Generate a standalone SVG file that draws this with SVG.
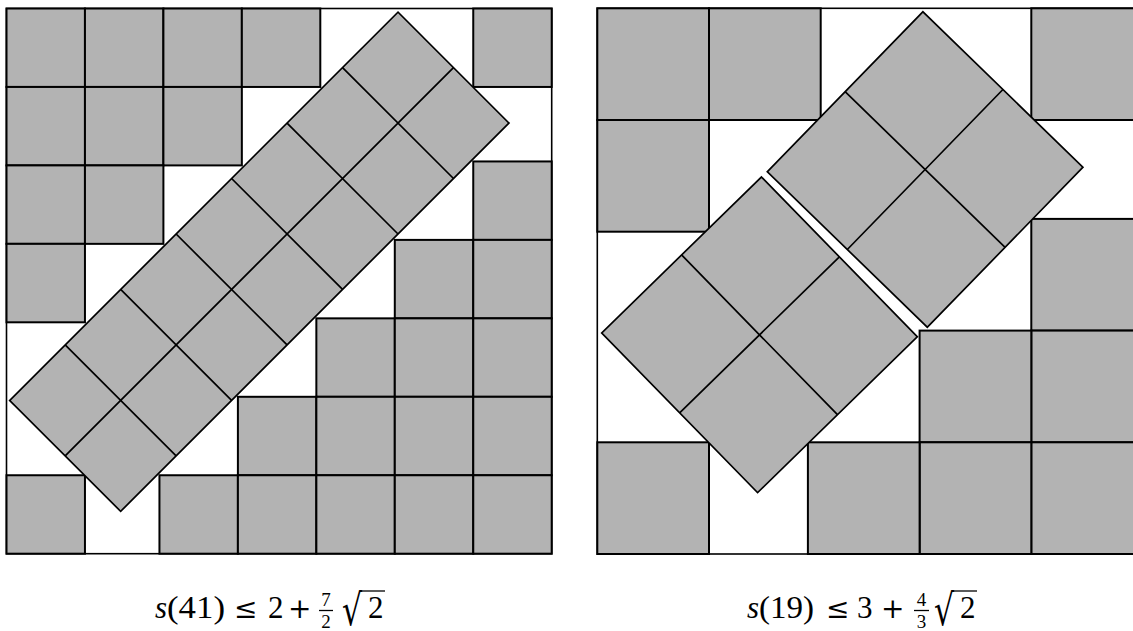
<svg xmlns="http://www.w3.org/2000/svg" width="1133" height="631" viewBox="0 0 1133 631">
<style>
.frame{fill:#fff;stroke:#000;stroke-width:1.6}
.sq{fill:#b3b3b3;stroke:#000;stroke-width:2}
.tl{fill:#b3b3b3;stroke:#000;stroke-width:1.7}
.ln{fill:none;stroke:#000;stroke-width:1.7}
.m{font-family:"Liberation Serif","DejaVu Serif",serif;font-size:31px;fill:#000}
.it{font-style:italic}
.op{font-family:"DejaVu Serif",serif;font-size:28px;fill:#000}
.fr{font-family:"Liberation Serif","DejaVu Serif",serif;font-size:19px;fill:#000}
.rad{font-family:"DejaVu Serif",serif;font-size:30px;fill:#000}
.bar{stroke:#000;stroke-width:1.3}
</style>
<defs>
<rect id="a" width="78.45" height="78.45" class="sq"/>
<rect id="b" width="111.7" height="111.7" class="sq"/>
</defs>
<rect width="1133" height="631" fill="#fff"/>
<g id="left-panel">
<rect class="frame" x="6.5" y="8.5" width="545.2" height="545.2"/>
<g id="left-squares">
<use href="#a" x="6.5" y="8.5"/><use href="#a" x="84.95" y="8.5"/><use href="#a" x="163.4" y="8.5"/><use href="#a" x="241.85" y="8.5"/><use href="#a" x="473.25" y="8.5"/>
<use href="#a" x="6.5" y="86.95"/><use href="#a" x="84.95" y="86.95"/><use href="#a" x="163.4" y="86.95"/>
<use href="#a" x="6.5" y="165.4"/><use href="#a" x="84.95" y="165.4"/>
<use href="#a" x="6.5" y="243.85"/>
<use href="#a" x="473.25" y="161.45"/>
<use href="#a" x="394.8" y="239.9"/><use href="#a" x="473.25" y="239.9"/>
<use href="#a" x="316.35" y="318.35"/><use href="#a" x="394.8" y="318.35"/><use href="#a" x="473.25" y="318.35"/>
<use href="#a" x="237.9" y="396.8"/><use href="#a" x="316.35" y="396.8"/><use href="#a" x="394.8" y="396.8"/><use href="#a" x="473.25" y="396.8"/>
<use href="#a" x="6.5" y="475.25"/><use href="#a" x="159.45" y="475.25"/><use href="#a" x="237.9" y="475.25"/><use href="#a" x="316.35" y="475.25"/><use href="#a" x="394.8" y="475.25"/><use href="#a" x="473.25" y="475.25"/>
</g>
<g id="left-tilted" transform="translate(9.7,400.4) rotate(-45)">
<rect class="tl" x="0" y="0" width="549.15" height="156.9"/>
<path class="ln" d="M0 78.45H549.15M78.45 0V156.9M156.9 0V156.9M235.35 0V156.9M313.8 0V156.9M392.25 0V156.9M470.7 0V156.9"/>
</g>
</g>
<g id="right-panel">
<rect class="frame" x="597.3" y="8.3" width="545.7" height="545.7"/>
<g id="right-squares">
<use href="#b" x="597.3" y="8.3"/><use href="#b" x="709" y="8.3"/><use href="#b" x="1031.3" y="8.3"/>
<use href="#b" x="597.3" y="120"/>
<use href="#b" x="1031.3" y="218.9"/><use href="#b" x="1031.3" y="330.6"/><use href="#b" x="1031.3" y="442.3"/>
<use href="#b" x="919.6" y="330.6"/><use href="#b" x="919.6" y="442.3"/>
<use href="#b" x="807.9" y="442.3"/><use href="#b" x="597.3" y="442.3"/>
</g>
<g id="right-tilted-upper" transform="translate(767.3,171.7) rotate(-45.8)">
<rect class="tl" x="0" y="0" width="223.2" height="223.2"/>
<path class="ln" d="M0 111.6H223.2M111.6 0V223.2"/>
</g>
<g id="right-tilted-lower" transform="translate(601.7,332.9) rotate(-44.3)">
<rect class="tl" x="0" y="0" width="223.2" height="223.2"/>
<path class="ln" d="M0 111.6H223.2M111.6 0V223.2"/>
</g>
</g>
<g id="label-left">
<text class="m it" x="155" y="618">s</text>
<text class="m" x="167" y="618" textLength="58" lengthAdjust="spacingAndGlyphs">(41)</text>
<text class="op" x="234" y="618">≤</text>
<text class="m" x="268" y="618">2</text>
<text class="op" x="288" y="618">+</text>
<text class="fr" x="326" y="606" text-anchor="middle">7</text>
<line class="bar" x1="319" y1="610.5" x2="333" y2="610.5"/>
<text class="fr" x="326" y="628" text-anchor="middle">2</text>
<text class="rad" transform="translate(342,625) scale(1.05,1.45)">√</text>
<line class="bar" x1="361" y1="591" x2="385" y2="591"/>
<text class="m" x="368" y="618">2</text>
</g>
<g id="label-right">
<text class="m it" x="747" y="618">s</text>
<text class="m" x="759" y="618" textLength="55" lengthAdjust="spacingAndGlyphs">(19)</text>
<text class="op" x="826" y="618">≤</text>
<text class="m" x="857" y="618">3</text>
<text class="op" x="881" y="618">+</text>
<text class="fr" x="921.5" y="606" text-anchor="middle">4</text>
<line class="bar" x1="914" y1="610.5" x2="929" y2="610.5"/>
<text class="fr" x="921.5" y="628" text-anchor="middle">3</text>
<text class="rad" transform="translate(934,625) scale(1.05,1.45)">√</text>
<line class="bar" x1="953" y1="591" x2="977" y2="591"/>
<text class="m" x="960" y="618">2</text>
</g>
</svg>
